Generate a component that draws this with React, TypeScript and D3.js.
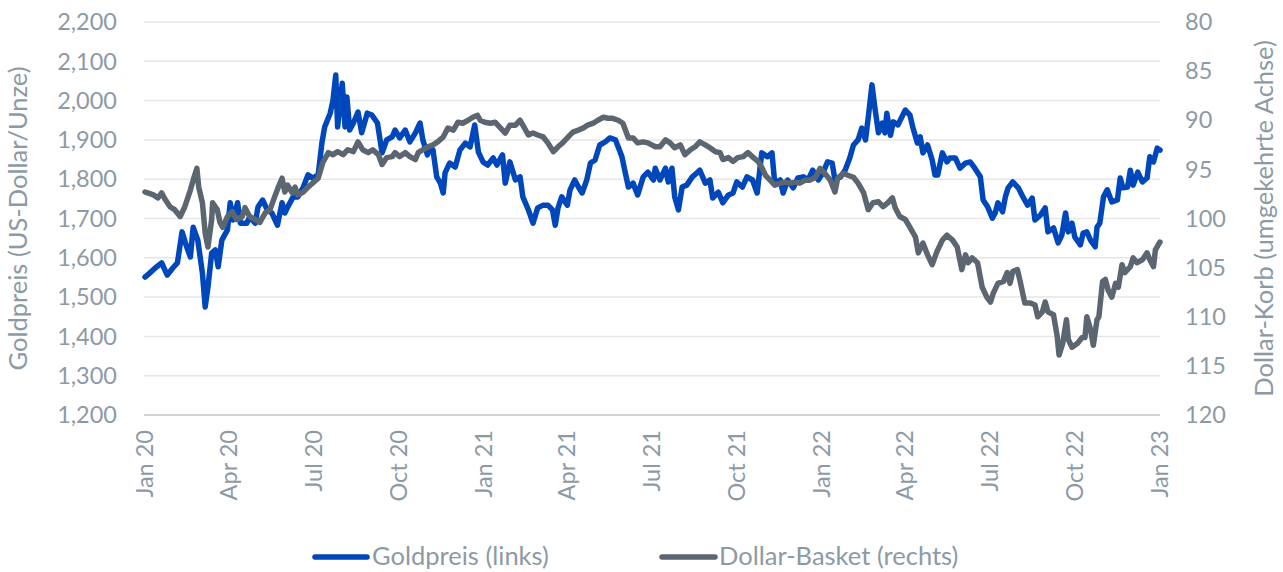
import React from 'react';
import * as d3 from 'd3';

// days since 1 Jan 2020
const goldDays = [0, 5, 11, 18, 24, 30, 35, 40, 45, 49, 52, 57, 62, 65, 68, 72, 76, 79, 83, 89, 92, 95, 100, 103, 110, 113, 119, 122, 127, 132, 137, 143, 148, 151, 154, 160, 165, 171, 176, 181, 187, 191, 194, 200, 203, 206, 208, 213, 216, 218, 221, 225, 230, 234, 240, 245, 251, 256, 261, 267,
  270, 275, 281, 286, 292, 297, 300, 305, 308, 311, 315, 319, 322, 324, 329, 335, 340, 346, 351, 356, 360, 365, 370, 376, 380, 386, 389, 394, 400, 405, 408, 414, 419, 424, 430, 435, 440, 443, 446, 450, 456, 459, 464, 468, 472, 477, 481, 486, 491, 497, 502, 508, 511, 515, 518, 522, 527, 532, 538, 543, 549,
  551, 556, 562, 565, 569, 572, 576, 580, 585, 591, 596, 599, 605, 610, 613, 619, 624, 630, 635, 639, 645, 650, 656, 661, 666, 672, 677, 680, 686, 689, 694, 700, 705, 711, 716, 721, 727, 732, 737, 742, 745, 751, 756, 761, 765, 770, 774, 778, 781, 785, 788, 792, 796, 799, 801, 805, 808, 813,
  821, 826, 829, 834, 837, 840, 845, 850, 853, 856, 861, 866, 869, 875, 880, 886, 891, 896, 902, 905, 910, 915, 918, 921, 926, 929, 932, 937, 943, 948, 953, 958, 961, 967, 972, 975, 981, 986, 990, 994, 997, 1001, 1004, 1010, 1013, 1017, 1021, 1026, 1028, 1031, 1035, 1039, 1044, 1050, 1053, 1056, 1061, 1064, 1067, 1072, 1077, 1082, 1085, 1089, 1093, 1096];
const goldValues = [1551, 1561, 1574, 1587, 1556, 1574, 1587, 1666, 1628, 1602, 1678, 1645, 1561, 1475, 1526, 1612, 1620, 1577, 1645, 1671, 1740, 1696, 1740, 1688, 1688, 1704, 1688, 1729, 1747, 1722, 1714, 1683, 1740, 1714, 1729, 1755, 1755, 1780, 1811, 1803, 1811, 1892, 1933, 1968, 2001, 2065, 1933, 2044, 1933, 2009, 1925, 1943, 1971, 1918, 1968, 1963, 1943, 1867, 1900, 1908,
  1925, 1905, 1925, 1895, 1918, 1943, 1900, 1862, 1882, 1874, 1806, 1790, 1765, 1816, 1841, 1831, 1874, 1892, 1882, 1938, 1869, 1844, 1836, 1854, 1836, 1862, 1790, 1844, 1798, 1806, 1755, 1722, 1688, 1727, 1734, 1734, 1722, 1683, 1727, 1755, 1734, 1773, 1798, 1780, 1765, 1798, 1841, 1849, 1887, 1895, 1905, 1900, 1882, 1857, 1823, 1780, 1790, 1760, 1806, 1818, 1798,
  1828, 1798, 1828, 1793, 1828, 1755, 1722, 1780, 1785, 1806, 1816, 1823, 1790, 1798, 1752, 1767, 1740, 1760, 1765, 1793, 1780, 1806, 1798, 1765, 1867, 1857, 1867, 1790, 1798, 1765, 1798, 1778, 1803, 1806, 1798, 1823, 1798, 1816, 1844, 1841, 1798, 1806, 1823, 1854, 1887, 1900, 1930, 1900, 1958, 2040, 1984, 1918, 1943, 1918, 1968, 1912, 1946, 1938,
  1976, 1963, 1933, 1892, 1908, 1867, 1887, 1849, 1811, 1811, 1867, 1844, 1854, 1854, 1828, 1841, 1844, 1828, 1806, 1747, 1729, 1701, 1714, 1740, 1717, 1755, 1778, 1793, 1778, 1755, 1734, 1752, 1696, 1709, 1727, 1666, 1676, 1638, 1658, 1714, 1666, 1688, 1653, 1633, 1663, 1666, 1645, 1628, 1678, 1688, 1755, 1773, 1742, 1747, 1803, 1778, 1780, 1823, 1785, 1818, 1793, 1803, 1857, 1844, 1879, 1874];

const dollarDays = [0, 3, 9, 14, 18, 22, 27, 32, 38, 43, 49, 52, 56, 58, 62, 65, 68, 72, 73, 78, 81, 84, 89, 94, 99, 105, 108, 113, 119, 124, 130, 135, 140, 144, 148, 151, 154, 159, 162, 165, 171, 176, 181, 187, 192, 198, 203, 208, 214, 219, 225, 230, 235, 241, 246, 252, 256, 261, 267,
  270, 275, 281, 286, 292, 295, 300, 306, 311, 316, 322, 327, 333, 338, 343, 349, 354, 359, 362, 367, 373, 378, 383, 389, 394, 400, 405, 408, 414, 419, 424, 430, 435, 441, 446, 451, 457, 462, 468, 473, 478, 484, 489, 495, 500, 505, 511, 516, 522, 527, 532, 538, 543,
  551, 556, 562, 567, 572, 578, 583, 589, 594, 599, 605, 610, 616, 621, 624, 630, 635, 640, 646, 651, 657, 662, 666, 670, 675, 680, 686, 691, 697, 702, 707, 713, 718, 724, 729, 734, 740, 745, 748, 754, 759, 765, 770, 776, 781, 786, 792, 797, 802, 807, 810,
  815, 821, 826, 832, 835, 840, 845, 850, 855, 861, 866, 872, 877, 882, 886, 889, 893, 899, 904, 909, 913, 916, 921, 927, 931, 934, 937, 942, 945, 950, 956, 961, 964, 969, 972, 975, 981, 985, 987, 991, 995, 997, 1001, 1007, 1012, 1015, 1017, 1021, 1024, 1028, 1030, 1034, 1037, 1040, 1044, 1048, 1051, 1055, 1058, 1064, 1067, 1071, 1077, 1082, 1085, 1089, 1091, 1094, 1096];
const dollarValues = [97.3, 97.4, 97.6, 97.9, 97.4, 98.1, 98.8, 99.1, 99.8, 98.8, 97.1, 96.1, 94.9, 96.8, 98.4, 101.5, 102.9, 100.1, 98.4, 99.1, 100.4, 100.9, 99.8, 99.3, 100.1, 99.8, 98.9, 99.8, 100.1, 100.4, 99.4, 99.1, 97.8, 96.8, 95.9, 97.3, 96.6, 97.4, 96.8, 97.6, 97.3, 96.8, 96.4, 95.9, 94.3, 93.3, 93.5, 93.2, 93.5, 93.0, 93.2, 92.2, 93.0, 93.3, 93.0, 93.5, 94.5, 93.8, 93.7,
  93.3, 93.7, 93.3, 93.7, 94.0, 93.3, 93.0, 92.7, 92.5, 92.2, 91.7, 90.8, 91.0, 90.2, 90.3, 90.0, 89.7, 89.5, 90.0, 90.2, 90.3, 90.2, 90.7, 91.3, 90.5, 90.5, 90.0, 90.5, 91.5, 91.3, 91.5, 91.7, 92.3, 93.2, 92.7, 92.3, 91.7, 91.2, 91.0, 90.8, 90.5, 90.3, 90.0, 89.7, 89.8, 89.8, 90.0, 90.3, 91.8, 91.8, 92.3, 92.2, 92.3,
  92.7, 92.7, 92.0, 92.3, 92.8, 92.5, 93.5, 93.0, 92.7, 92.2, 92.5, 92.8, 93.2, 93.3, 94.0, 93.8, 94.2, 93.8, 93.7, 93.3, 93.8, 94.2, 94.8, 95.6, 96.1, 96.6, 96.4, 96.3, 96.4, 96.3, 96.4, 96.1, 96.1, 95.8, 94.9, 95.4, 96.1, 97.3, 95.9, 95.4, 95.6, 95.8, 96.4, 97.4, 99.1, 98.4, 98.3, 98.8, 98.4, 97.9, 98.9,
  99.8, 100.1, 100.9, 101.9, 103.5, 102.5, 103.7, 104.7, 103.4, 102.2, 101.7, 102.2, 102.9, 105.2, 103.7, 104.5, 104.0, 104.5, 107.0, 108.0, 108.5, 107.6, 106.6, 106.4, 105.5, 106.6, 105.4, 105.2, 106.4, 108.6, 108.6, 108.8, 110.0, 109.5, 108.5, 109.5, 109.8, 112.0, 113.9, 112.7, 110.3, 112.3, 113.1, 112.7, 112.1, 112.1, 110.0, 111.3, 112.9, 110.3, 110.0, 106.4, 106.2, 107.3, 108.0, 106.6, 107.0, 104.7, 105.5, 104.9, 104.0, 104.5, 104.2, 103.5, 104.2, 104.9, 103.2, 102.7, 102.4];

const leftTicks = [1200, 1300, 1400, 1500, 1600, 1700, 1800, 1900, 2000, 2100, 2200];
const rightTicks = [80, 85, 90, 95, 100, 105, 110, 115, 120];
const xTickDates = ['2020-01-01', '2020-04-01', '2020-07-01', '2020-10-01', '2021-01-01', '2021-04-01', '2021-07-01', '2021-10-01', '2022-01-01', '2022-04-01', '2022-07-01', '2022-10-01', '2023-01-01'];
const xTickLabels = ['Jan 20', 'Apr 20', 'Jul 20', 'Oct 20', 'Jan 21', 'Apr 21', 'Jul 21', 'Oct 21', 'Jan 22', 'Apr 22', 'Jul 22', 'Oct 22', 'Jan 23'];

const W = 1283;
const H = 572;
const plot = { left: 145, right: 1160, top: 22, bottom: 415 };
const BLUE = '#0047bb';
const GREY = '#5b6670';
const TEXT = '#8c9aa5';
const FONT = 'Lato, "Source Sans Pro", sans-serif';

const start = new Date(2020, 0, 1);
const parse = d3.timeParse('%Y-%m-%d');

export default function App() {
  const x = d3.scaleTime()
    .domain([start, new Date(2023, 0, 1)])
    .range([plot.left, plot.right]);
  const yGold = d3.scaleLinear().domain([1200, 2200]).range([plot.bottom, plot.top]);
  // reversed axis: 80 at the top
  const yDollar = d3.scaleLinear().domain([120, 80]).range([plot.bottom, plot.top]);

  const gold = goldDays.map((d, i) => ({ date: d3.timeDay.offset(start, d), v: goldValues[i] }));
  const dollar = dollarDays.map((d, i) => ({ date: d3.timeDay.offset(start, d), v: dollarValues[i] }));

  const goldLine = d3.line<{ date: Date; v: number }>()
    .x(d => x(d.date))
    .y(d => yGold(d.v));
  const dollarLine = d3.line<{ date: Date; v: number }>()
    .x(d => x(d.date))
    .y(d => yDollar(d.v));

  const fmt = d3.format(',');

  return (
    <svg width={W} height={H} style={{ position: 'absolute', left: 0, top: 0, background: '#fff' }}
      fontFamily={FONT}>
      {leftTicks.map(t => (
        <line key={'g' + t} x1={plot.left - 1} x2={plot.right} y1={yGold(t)} y2={yGold(t)}
          stroke={t === 1200 ? '#d4d4d4' : '#e6e6e6'} strokeWidth={t === 1200 ? 2 : 1.5} />
      ))}
      {leftTicks.map(t => (
        <text key={'l' + t} x={117} y={yGold(t)} dy="0.35em" textAnchor="end" fontSize={23.5} fill={TEXT}>
          {fmt(t)}
        </text>
      ))}
      {rightTicks.map(t => (
        <text key={'r' + t} x={1185} y={yDollar(t)} dy="0.35em" textAnchor="start" fontSize={23.5} fill={TEXT}>
          {t}
        </text>
      ))}
      {xTickDates.map((d, i) => {
        const px = x(parse(d) as Date);
        return (
          <text key={d} transform={`translate(${px + 8},${plot.bottom + 15}) rotate(-90)`}
            textAnchor="end" fontSize={23.5} fill={TEXT}>
            {xTickLabels[i]}
          </text>
        );
      })}
      <text transform={`translate(27,${(plot.top + plot.bottom) / 2}) rotate(-90)`} textAnchor="middle"
        fontSize={25.5} fill={TEXT}>Goldpreis (US-Dollar/Unze)</text>
      <text transform={`translate(1273,${(plot.top + plot.bottom) / 2}) rotate(-90)`} textAnchor="middle"
        fontSize={25.5} fill={TEXT}>Dollar-Korb (umgekehrte Achse)</text>

      <path d={goldLine(gold) || ''} fill="none" stroke={BLUE} strokeWidth={5.5}
        strokeLinejoin="round" strokeLinecap="round" />
      <path d={dollarLine(dollar) || ''} fill="none" stroke={GREY} strokeWidth={5.5}
        strokeLinejoin="round" strokeLinecap="round" />

      <line x1={315} x2={367} y1={557} y2={557} stroke={BLUE} strokeWidth={5.5} strokeLinecap="round" />
      <text x={372} y={565} fontSize={25.5} fill={TEXT}>Goldpreis (links)</text>
      <line x1={662} x2={715} y1={557} y2={557} stroke={GREY} strokeWidth={5.5} strokeLinecap="round" />
      <text x={719} y={565} fontSize={25.5} fill={TEXT}>Dollar-Basket (rechts)</text>
    </svg>
  );
}
